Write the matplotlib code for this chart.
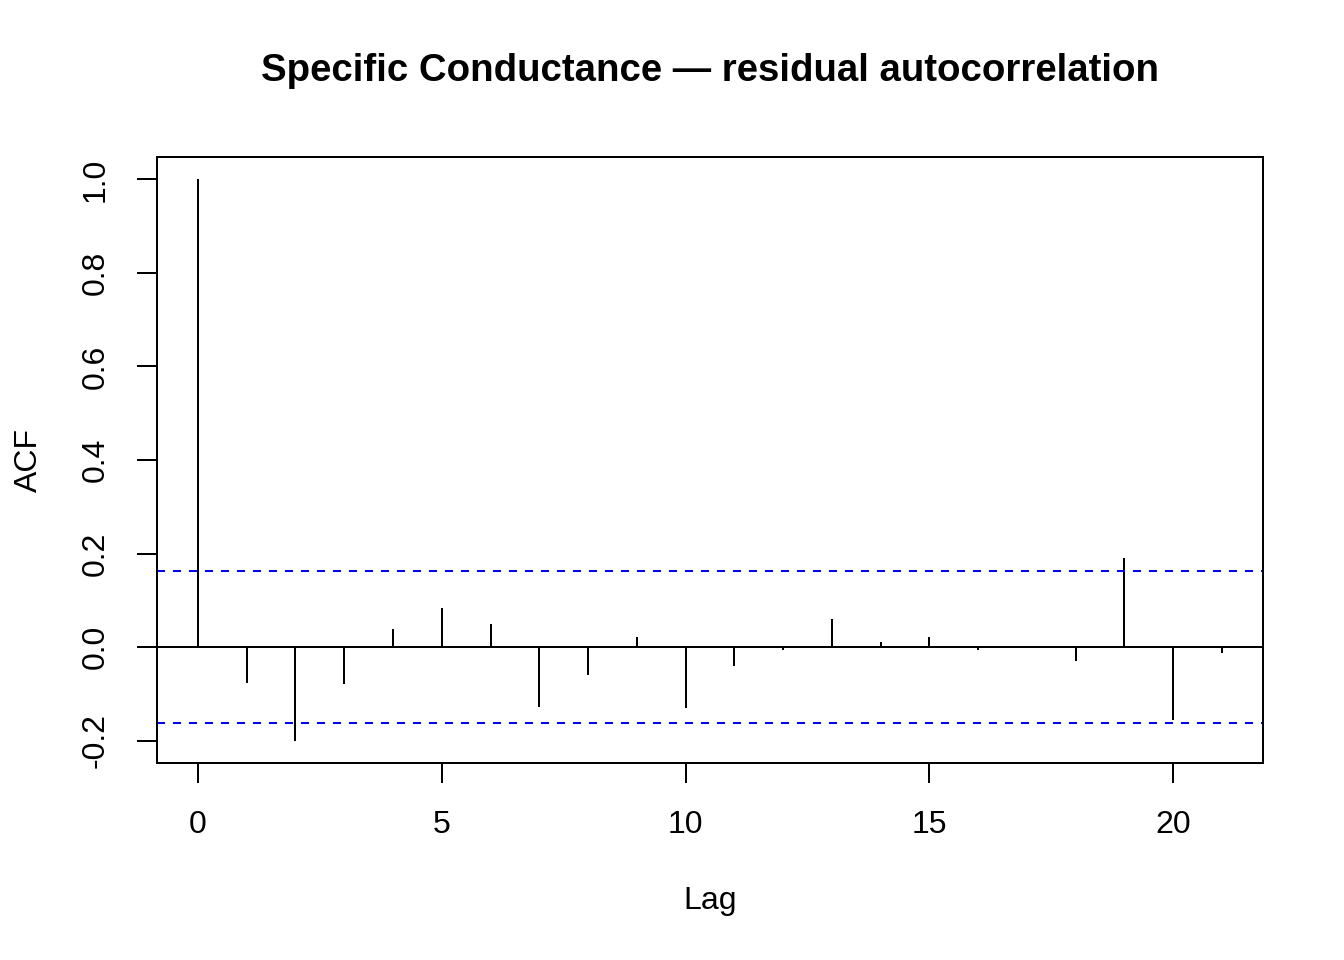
import matplotlib
matplotlib.use('Agg')
import matplotlib.pyplot as plt
import numpy as np

lags = np.arange(0, 22)
acf_vals = [1.0, -0.077, -0.200, -0.080, 0.038, 0.084, 0.050, -0.129, -0.060, 0.021, -0.130,
            -0.040, -0.006, 0.061, 0.011, 0.021, -0.007, 0.002, -0.029, 0.191, -0.157, -0.012]
conf_limit = 0.163

plt.rcParams['font.family'] = ['Liberation Sans', 'DejaVu Sans']

fig = plt.figure(figsize=(7, 5), dpi=192)
ax = fig.add_axes([0.1168, 0.2052, 0.9397 - 0.1168, 0.8365 - 0.2052])

ax.vlines(lags, 0, acf_vals, color='black', lw=0.75)
ax.axhline(0, color='black', lw=0.75)
ax.axhline(conf_limit, color='#0000ff', lw=0.75, ls=(0, (4, 4)))
ax.axhline(-conf_limit, color='#0000ff', lw=0.75, ls=(0, (4, 4)))

# R-style 4% padding around the data range
lo = min(min(acf_vals), -conf_limit)
span_y = max(acf_vals) - lo
ax.set_xlim(-0.04 * 21, 21 * 1.04)
ax.set_ylim(lo - 0.04 * span_y, max(acf_vals) + 0.04 * span_y)

ax.set_xticks([0, 5, 10, 15, 20])
ax.set_yticks([-0.2, 0.0, 0.2, 0.4, 0.6, 0.8, 1.0])
ax.set_yticklabels(['-0.2', '0.0', '0.2', '0.4', '0.6', '0.8', '1.0'], rotation=90, va='center')
ax.tick_params(direction='out', length=7.5, width=0.75, labelsize=12, pad=10)
for s in ax.spines.values():
    s.set_linewidth(0.75)

ax.set_xlabel('Lag', fontsize=12, labelpad=17.5)
ax.set_ylabel('ACF', fontsize=12, labelpad=13.5)
fig.suptitle('Specific Conductance \u2014 residual autocorrelation', fontsize=14.4,
             fontweight='bold', y=0.926, va='center', x=(0.1168 + 0.9397) / 2)

fig.savefig('out.png', dpi=192)
